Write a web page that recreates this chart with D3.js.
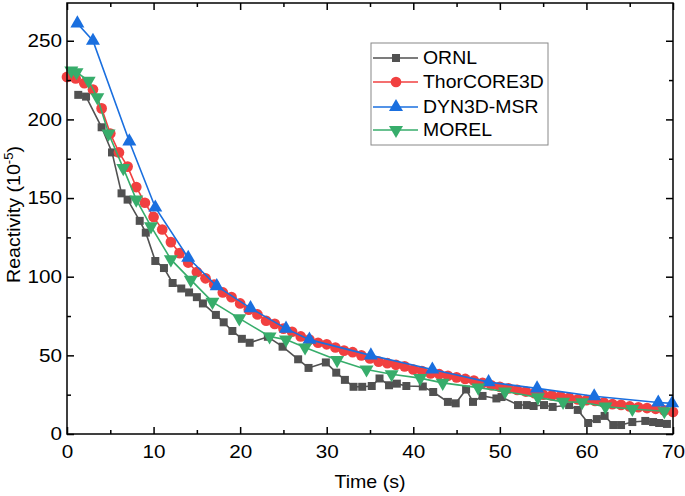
<!DOCTYPE html>
<html><head><meta charset="utf-8">
<script src="https://cdn.jsdelivr.net/npm/d3@7"></script>
<style>body{margin:0;background:#fff}svg{display:block}text{font-family:"Liberation Sans",Arial,sans-serif}</style>
</head><body><svg id="c" width="685" height="496"></svg>
<script>
const xTicks = [0,10,20,30,40,50,60,70];
const yTicks = [0,50,100,150,200,250];
const seriesNames = ["ORNL","ThorCORE3D","DYN3D-MSR","MOREL"];

const ornlT = [1.3,2.2,4.0,5.2,6.3,7.0,8.4,9.1,10.2,11.2,12.2,13.2,14.1,15.0,15.7,17.2,18.1,19.1,20.2,21.1,23.2,24.9,26.7,27.9,29.9,31.1,32.1,33.1,34.1,35.2,36.1,37.2,38.1,39.2,41.1,42.3,44.0,44.9,46.1,46.9,48.0,49.6,50.2,52.1,53.1,53.9,55.1,56.1,58.0,59.0,60.2,61.2,62.1,63.1,64.0,65.3,66.8,67.7,68.4,69.3];
const ornlR = [215.6,214.5,195,179,153,149,135.5,128,110,105.5,96,92.5,90,87,83,75.7,71,65.5,60.5,58,61.8,55.5,47.5,42,45.5,39,34.4,30,30,30.5,35.3,31,32,30.5,30.2,26.7,20.4,19.5,28.3,20.4,24.2,22.6,23.5,18.4,18.4,17.8,18.4,17.2,18.4,15.3,7,9.5,11.5,5.7,5.7,7.6,8.3,7.6,7,6.4];

const thorT = [0,1,2,3,4,5,6,7,8,9,10,11,12,13,14,15,16,17,18,19,20,21,22,23,24,25,26,27,28,29,30,31,32,33,34,35,36,37,38,39,40,41,42,43,44,45,46,47,48,49,50,51,52,53,54,55,56,57,58,59,60,61,62,63,64,65,66,67,68,69,70];
const thorR = [227,226,223,219,207,191,179,170,157,147,138,130,122,115,109,103,99,95,90,87,83,79,76,72,70,67,65,62,60,58,57,55,53,52,50,48,46,45,44,43,41,40,38.5,38,37,36,35,34,32.5,31,30,29,28,27,26,25,24.5,24,23,22,21.5,21,20,19,18.5,17.5,17,16.5,16,15,14];

const dynT = [1.2,3.0,7.2,10.2,14.0,17.3,21.2,25.3,28.0,35.1,42.2,48.7,54.3,60.9,68.3,69.9];
const dynR = [261,250,186,144,112,94,80,67,60,50,41,33,29,24,20,19.5];

const morT = [0.5,1.1,2.5,3.5,4.8,6.5,8.0,9.7,12.0,14.3,16.8,19.9,23.4,25.3,27.5,31.2,34.6,37.5,40.8,43.4,47.5,50.6,54.4,57.3,59.5,62.2,65.3,69.0];
const morR = [231,230,224.5,214,191,169,149,132,111,98,84,73.5,62,60,55,47,41,38,35.5,32.5,29.5,27,23.3,20.4,20.2,17.4,15.9,14.5];

const colors = ["#515151","#F14040","#1A6FDF","#37AD6B"];
const shapes = [d3.symbolSquare, d3.symbolCircle, d3.symbolTriangle, "down"];
const sizes = [64, 90, 85, 85];

const svg = d3.select("#c");
const L=67,R=673,T=3,B=434;
const x = d3.scaleLinear().domain([0,70]).range([L,R]);
const y = d3.scaleLinear().domain([0,274]).range([B,T]);

const data = [
  ornlT.map((t,i)=>[t,ornlR[i]]),
  thorT.map((t,i)=>[t,thorR[i]]),
  dynT.map((t,i)=>[t,dynR[i]]),
  morT.map((t,i)=>[t,morR[i]])
];

function sym(g, k, cx, cy){
  if (shapes[k]==="down"){
    g.append("path").attr("d", d3.symbol(d3.symbolTriangle, sizes[k])())
     .attr("transform",`translate(${cx},${cy}) rotate(180)`).attr("fill",colors[k]);
  } else {
    g.append("path").attr("d", d3.symbol(shapes[k], sizes[k])())
     .attr("transform",`translate(${cx},${cy})`).attr("fill",colors[k]);
  }
}

const plot = svg.append("g");
const line = d3.line().x(d=>x(d[0])).y(d=>y(d[1]));
data.forEach((s,k)=>{
  const g = plot.append("g");
  g.append("path").attr("d",line(s)).attr("fill","none").attr("stroke",colors[k]).attr("stroke-width",1.6);
  s.forEach(d=>sym(g,k,x(d[0]),y(d[1])));
});

// axes
const fs = 18, SX = 1.15, SXL = 1.08, SXT = 1.09;
const ax = svg.append("g");
ax.append("g").attr("transform",`translate(0,${B})`).call(d3.axisBottom(x).tickValues(xTicks).tickSize(-7).tickPadding(11).tickFormat(d3.format("d")));
ax.append("g").attr("transform",`translate(0,${T})`).call(d3.axisTop(x).tickValues(xTicks).tickSize(-7).tickFormat(""));
ax.append("g").attr("transform",`translate(${L},0)`).call(d3.axisLeft(y).tickValues(yTicks).tickSize(-7).tickPadding(5).tickFormat(d3.format("d")));
ax.append("g").attr("transform",`translate(${R},0)`).call(d3.axisRight(y).tickValues(yTicks).tickSize(-7).tickFormat(""));
const xMinor = d3.range(5,70,10), yMinor = d3.range(25,274,50);
ax.append("g").attr("transform",`translate(0,${B})`).call(d3.axisBottom(x).tickValues(xMinor).tickSize(-4).tickFormat(""));
ax.append("g").attr("transform",`translate(0,${T})`).call(d3.axisTop(x).tickValues(xMinor).tickSize(-4).tickFormat(""));
ax.append("g").attr("transform",`translate(${L},0)`).call(d3.axisLeft(y).tickValues(yMinor).tickSize(-4).tickFormat(""));
ax.append("g").attr("transform",`translate(${R},0)`).call(d3.axisRight(y).tickValues(yMinor).tickSize(-4).tickFormat(""));
ax.selectAll(".domain").remove();
ax.selectAll("line").attr("stroke","#000").attr("stroke-width",1.5);
ax.selectAll("text").attr("font-size",fs).attr("fill","#000").attr("font-family","Liberation Sans, Arial, sans-serif")
  .each(function(){
    const t = d3.select(this);
    const tx = +t.attr("x") || 0;
    t.attr("x",0).attr("transform",`translate(${tx},0) scale(${SX},1)`);
  });
svg.append("rect").attr("x",L).attr("y",T).attr("width",R-L).attr("height",B-T).attr("fill","none").attr("stroke","#000").attr("stroke-width",1.5);

// titles
svg.append("text").attr("transform",`translate(${(L+R)/2},488) scale(${SXT},1)`).attr("text-anchor","middle").attr("font-size",fs).text("Time (s)");
const yt = svg.append("text").attr("transform",`translate(20,${(T+B)/2 - 4}) rotate(-90) scale(${SXT},1)`).attr("text-anchor","middle").attr("font-size",fs);
yt.append("tspan").text("Reactivity (10");
yt.append("tspan").attr("font-size",12).attr("dy",-7).text("-5");
yt.append("tspan").attr("dy",7).text(")");

// legend
const lg = svg.append("g");
lg.append("rect").attr("x",371).attr("y",43).attr("width",177).attr("height",102).attr("fill","#fff").attr("stroke","#888").attr("stroke-width",1);
const rowsY = [58,82,107,130];
seriesNames.forEach((n,k)=>{
  const yy = rowsY[k];
  lg.append("line").attr("x1",373).attr("x2",418).attr("y1",yy).attr("y2",yy).attr("stroke",colors[k]).attr("stroke-width",1.6);
  sym(lg,k,396,yy);
  lg.append("text").attr("transform",`translate(423,${yy}) scale(${SXL},1)`).attr("dy","0.36em").attr("font-size",fs).text(n);
});
</script></body></html>
